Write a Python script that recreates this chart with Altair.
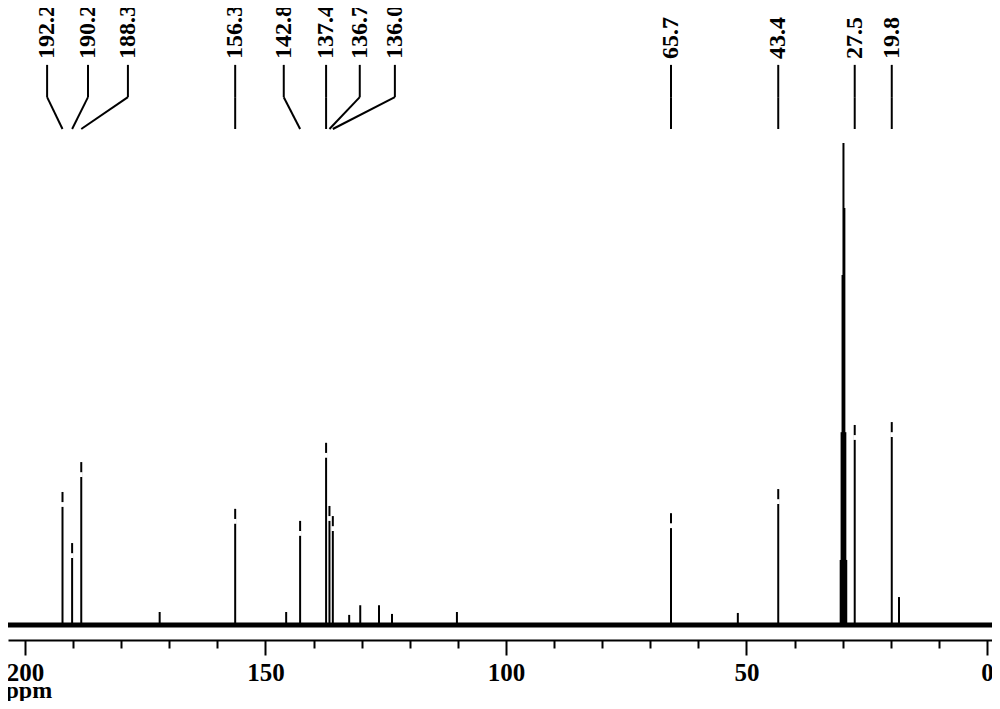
import altair as alt
import pandas as pd

# labelled peaks: shift (ppm), height (solvent peak = 100), where the label sits (ppm)
peak_ppm = [192.2, 190.2, 188.3, 156.3, 142.8, 137.4, 136.7, 136.0, 65.7, 43.4, 27.5, 19.8]
peak_height = [27.6, 17.0, 33.8, 24.1, 21.6, 37.8, 24.7, 22.6, 23.2, 28.2, 41.5, 42.1]
label_ppm = [195.4, 186.9, 178.6, 156.3, 146.2, 137.4, 130.4, 123.1, 65.7, 43.4, 27.5, 19.8]

# solvent multiplet (unlabelled)
solvent_ppm = [30.42, 30.23, 30.03, 29.84, 29.65, 29.45, 29.26]
solvent_height = [13.5, 40.0, 72.6, 100.0, 86.5, 40.0, 13.5]

# small unlabelled peaks
minor_ppm = [172.0, 145.7, 132.6, 130.3, 126.4, 123.7, 110.2, 51.8, 18.3]
minor_height = [2.7, 2.7, 2.1, 4.1, 4.1, 2.3, 2.7, 2.5, 5.8]

axis_ticks = list(range(0, 201, 10))

# levels of the label leaders, in intensity units
LABEL_Y = 117.4
TOP_Y = 116.2
BEND_Y = 109.5
TIP_Y = 102.9

FONT = "Liberation Serif"

xscale = alt.Scale(domain=[-1.04, 203.53], reverse=True, nice=False, zero=False)
yscale = alt.Scale(domain=[-3.11, 128.0], nice=False, zero=False)

peaks = pd.DataFrame({
    "ppm": peak_ppm + solvent_ppm + minor_ppm,
    "h": peak_height + solvent_height + minor_height,
})
picked = pd.DataFrame({"ppm": peak_ppm, "h": peak_height})
labels = pd.DataFrame({
    "ppm": peak_ppm,
    "pos": label_ppm,
    "text": [f"{p:.1f}" for p in peak_ppm],
    "label_y": LABEL_Y,
    "top": TOP_Y,
    "bend": BEND_Y,
    "tip": TIP_Y,
})

x_axis = alt.Axis(
    values=axis_ticks,
    labelExpr="datum.value % 50 == 0 ? datum.label : ''",
    grid=False,
    domainColor="black",
    domainWidth=2,
    tickColor="black",
    tickWidth=2,
    tickSize={"condition": {"test": "datum.value % 50 == 0", "value": 15}, "value": 8},
    labelFont=FONT,
    labelFontWeight="bold",
    labelFontSize=25,
    labelColor="black",
    labelPadding=5,
    labelFlush=False,
    labelOverlap=False,
    title="ppm",
    titleFont=FONT,
    titleFontWeight="bold",
    titleFontSize=24,
    titleColor="black",
    titleAnchor="start",
    titleAlign="left",
    titleBaseline="alphabetic",
    titleX=-3,
    titleY=57,
)

baseline = alt.Chart(pd.DataFrame({"y": [0]})).mark_rule(
    color="black", strokeWidth=5
).encode(
    y=alt.Y("y:Q", scale=yscale, axis=None)
)

spectrum = alt.Chart(peaks).mark_rule(color="black", strokeWidth=2).encode(
    x=alt.X("ppm:Q", scale=xscale, axis=x_axis),
    y=alt.Y("h:Q", scale=yscale, axis=None),
    y2=alt.datum(0),
)

# peak-pick markers: a small white gap just below each picked peak top
markers = alt.Chart(picked).transform_calculate(
    g1="datum.h - 2.1", g2="datum.h - 3.1"
).mark_rule(color="white", strokeWidth=3).encode(
    x=alt.X("ppm:Q", scale=xscale),
    y=alt.Y("g1:Q", scale=yscale),
    y2="g2:Q",
)

leader_v = alt.Chart(labels).mark_rule(color="black", strokeWidth=2).encode(
    x=alt.X("pos:Q", scale=xscale),
    y=alt.Y("top:Q", scale=yscale),
    y2="bend:Q",
)

leader_d = alt.Chart(labels).mark_rule(color="black", strokeWidth=2).encode(
    x=alt.X("pos:Q", scale=xscale),
    x2="ppm:Q",
    y=alt.Y("bend:Q", scale=yscale),
    y2="tip:Q",
)

text = alt.Chart(labels).mark_text(
    angle=270, align="left", baseline="middle",
    font=FONT, fontWeight="bold", fontSize=24, color="black",
).encode(
    x=alt.X("pos:Q", scale=xscale),
    y=alt.Y("label_y:Q", scale=yscale),
    text="text:N",
)

chart = alt.layer(baseline, spectrum, markers, leader_v, leader_d, text).properties(
    width=984,
    height=632,
    autosize=alt.AutoSizeParams(type="none"),
    padding={"left": 0, "right": 0, "top": 0, "bottom": 61},
    background="white",
).configure_view(stroke=None)

chart.save("out.html", embed_options={"renderer": "svg", "actions": False})
